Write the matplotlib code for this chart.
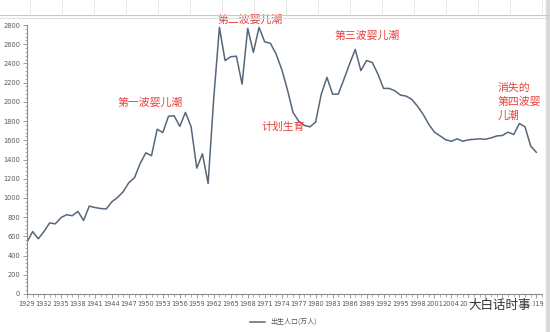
import matplotlib
matplotlib.use("Agg")
import matplotlib.pyplot as plt
from matplotlib.lines import Line2D
from matplotlib.patches import Rectangle
from matplotlib.ticker import MultipleLocator

plt.rcParams['font.family'] = ['Noto Sans CJK SC', 'DejaVu Sans']

# 出生人口（万人），1929-2019
anios = list(range(1929, 2020))
nacimientos = [
    540, 650, 575, 650, 740, 730, 795, 825, 815, 860,
    765, 915, 900, 890, 885, 960, 1005, 1065, 1160, 1210,
    1360, 1470, 1440, 1715, 1680, 1850, 1855, 1745, 1890, 1740,
    1310, 1460, 1150, 2040, 2775, 2430, 2470, 2475, 2185, 2765,
    2515, 2775, 2625, 2610, 2500, 2340, 2130, 1890, 1800, 1755,
    1740, 1790, 2080, 2255, 2080, 2080, 2235, 2395, 2545, 2325,
    2430, 2410, 2290, 2140, 2140, 2115, 2070, 2060, 2025, 1955,
    1870, 1765, 1685, 1645, 1605, 1590, 1615, 1590, 1605, 1610,
    1615, 1610, 1625, 1645, 1650, 1685, 1660, 1775, 1740, 1540,
    1475,
]
etiquetas_x = [str(a) for a in range(1929, 2020, 3)]

# anotaciones: texto, año, valor, alineación
notas = [
    ("第一波婴儿潮", 1950.8, 1995, "center"),
    ("第二波婴儿潮", 1968.4, 2850, "center"),
    ("计划生育", 1974.2, 1740, "center"),
    ("第三波婴儿潮", 1989.1, 2690, "center"),
    ("消失的\n第四波婴\n儿潮", 2012.2, 2000, "left"),
]

rojo = "#e4413b"
gris = "#595959"
eje = "#8c8c8c"

fig = plt.figure(figsize=(5.5, 3.32), dpi=100)
ax = fig.add_axes([27 / 550, 1 - 294 / 332, (542 - 27) / 550, (294 - 25) / 332])

ax.plot(anios, nacimientos, color="#56677a", lw=1.1, label="出生人口(万人)")

ax.set_xlim(1929, 2020)
ax.set_ylim(0, 2800)
ax.set_xticks(range(1929, 2020, 3))
ax.set_xticklabels(etiquetas_x)
ax.xaxis.set_minor_locator(MultipleLocator(1))
ax.set_yticks(range(0, 2801, 200))
ax.yaxis.set_minor_locator(MultipleLocator(40))

for lado in ["top", "right"]:
    ax.spines[lado].set_visible(False)
for lado in ["left", "bottom"]:
    ax.spines[lado].set_color(eje)
    ax.spines[lado].set_linewidth(0.8)

ax.tick_params(which="major", length=3, width=0.6, color=eje, pad=2)
ax.tick_params(which="minor", length=1.8, width=0.5, color=eje)
for t in ax.get_xticklabels() + ax.get_yticklabels():
    t.set_family("Liberation Sans Narrow")
    t.set_fontsize(4.8)
    t.set_color(gris)

for texto, x, y, alin in notas:
    ax.text(x, y, texto, color=rojo, fontsize=7.8, ha=alin, va="center",
            multialignment="left", linespacing=1.45, clip_on=False)

fig.legend(loc="center", bbox_to_anchor=(0.515, 0.03), frameon=False,
           fontsize=5, handlelength=2.2, labelcolor=gris)

# fondo de hoja de cálculo arriba
fig.add_artist(Line2D([0, 1], [1 - 15 / 332] * 2, color="#c8c8c8", lw=0.8))
fig.add_artist(Line2D([0, 1], [1 - 18 / 332] * 2, color="#d8d8d8", lw=0.6))
for xc in range(30, 550, 32):
    fig.add_artist(Line2D([xc / 550] * 2, [1 - 13 / 332, 1], color="#e4e4e4", lw=0.6))
fig.add_artist(Rectangle((546 / 550, 0), 4 / 550, 1, color="#d9d9d9",
                         transform=fig.transFigure))

# marca de agua que tapa parte de las etiquetas
fig.text(500 / 550, 1 - 306 / 332, "大白话时事", fontsize=9, color="#333333",
         ha="center", va="center",
         bbox=dict(boxstyle="square,pad=0.15", fc="white", ec="none", alpha=0.85))

fig.savefig("out.png", dpi=100)
